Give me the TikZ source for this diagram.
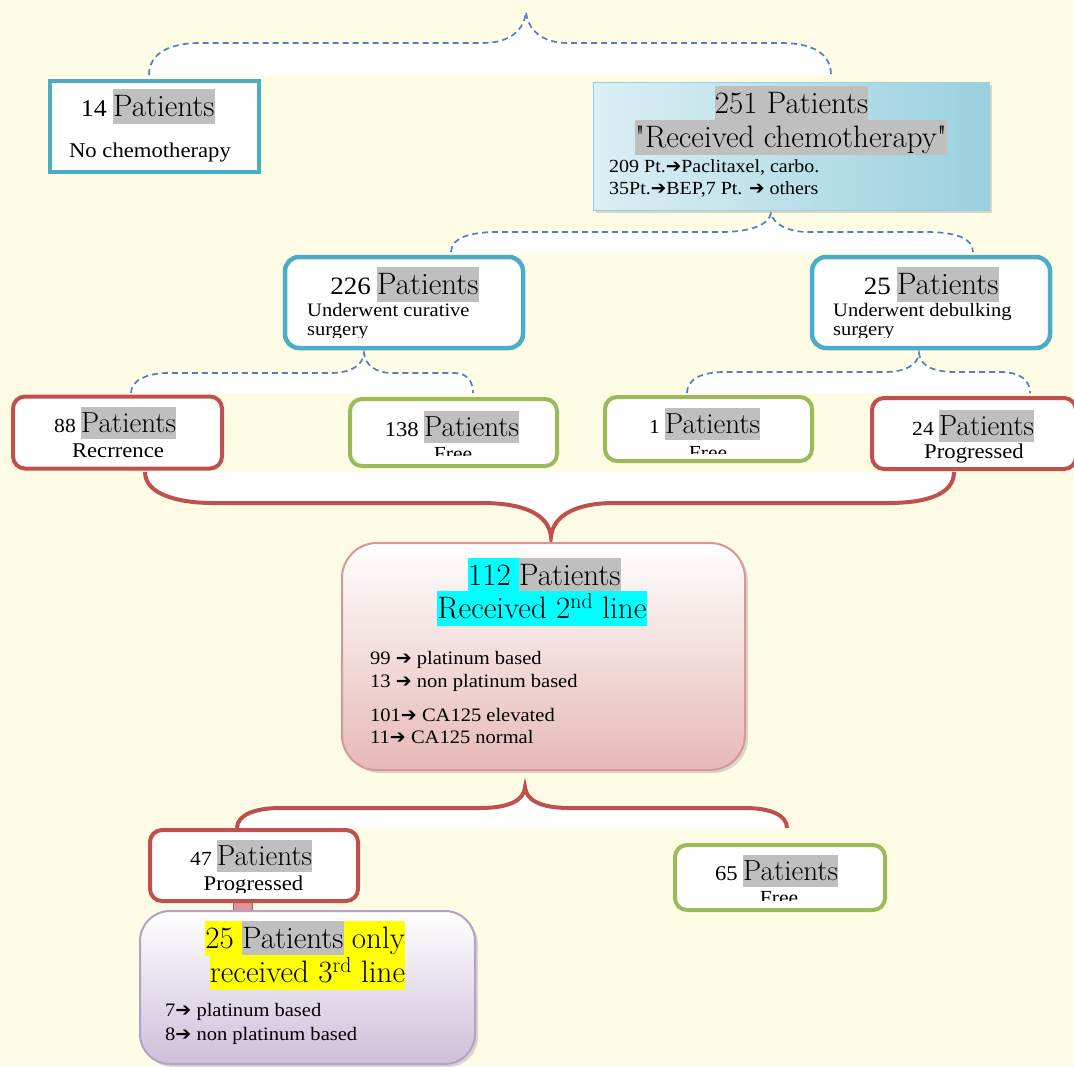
\documentclass[tikz,border=0pt]{standalone}
\usepackage{fontspec}
\setmainfont{Liberation Serif}[Ligatures=TeXOff, FakeStretch=1.08]
\newfontfamily\bigface{Latin Modern Roman}[Ligatures=TeXOff]
\newfontfamily\arrowfont{DejaVu Sans}
\usetikzlibrary{shadows}

\definecolor{cream}{HTML}{FFFCE6}
\definecolor{tealline}{HTML}{4BACC6}
\definecolor{redline}{HTML}{C0504D}
\definecolor{greenline}{HTML}{9BBB59}
\definecolor{braceblue}{HTML}{4F81BD}
\definecolor{hlgray}{HTML}{BFBFBF}
\definecolor{cyanhl}{HTML}{00FFFF}
\definecolor{yellowhl}{HTML}{FFFF00}
\definecolor{skylight}{HTML}{DCEFF4}
\definecolor{skydark}{HTML}{9AD1DF}
\definecolor{pinkline}{HTML}{D99694}
\definecolor{pinkbot}{HTML}{E6B9B8}
\definecolor{pinkbar}{HTML}{D99694}
\definecolor{lilacline}{HTML}{B3A2C7}
\definecolor{lilacbot}{HTML}{CCC0DA}

\pgfdeclarelayer{front}
\pgfsetlayers{main,front}

\newcommand\fsz[1]{\fontsize{#1}{#1}\selectfont}
\newcommand\rarr{{\arrowfont ➔}}
% text on the front layer, its marker colour filled behind it
\newcommand\marked[5]{%
  \begin{pgfonlayer}{front}\node[#1] (#2) at #3 {#4};\end{pgfonlayer}
  \fill[#5] (#2.north west) rectangle (#2.south east);}

\begin{document}
\begin{tikzpicture}[x=1pt,y=-1pt,
    boxbase/.style={inner sep=0pt, fill=white},
    tealbox/.style={boxbase, draw=tealline, line width=4.5pt, rounded corners=14pt},
    redbox/.style={boxbase, draw=redline, line width=4pt, rounded corners=12pt},
    greenbox/.style={boxbase, draw=greenline, line width=4pt, rounded corners=12pt},
    softshadow/.style={drop shadow={shadow xshift=3pt, shadow yshift=-3pt, fill=gray!60}},
    bluebrace/.style={draw=braceblue, line width=1.7pt, dash pattern=on 6pt off 4pt, fill=white},
    redbrace/.style={draw=redline, line width=4pt, fill=white},
    linkbar/.style={draw=redline, line width=1pt, double=pinkbar, double distance=18pt},
    txt/.style={inner sep=0pt, anchor=base},
    txtl/.style={inner sep=0pt, anchor=base west},
    num/.style={inner sep=0pt, anchor=base east},
    hlbig/.style={inner sep=0pt, anchor=base west, font=\bigface\fsz{31}, text height=26.5pt, text depth=7.5pt},
    hlmid/.style={inner sep=0pt, anchor=base west, font=\bigface\fsz{29}, text height=25pt, text depth=7pt},
    hlbigc/.style={hlbig, anchor=base},
    hlbige/.style={hlbig, anchor=base east}]
        \useasboundingbox (0,0) rectangle (1074,1066);
        \fill[cream] (0,0) rectangle (1074,1066);
        % ends and tips of the braces
        \coordinate (b1t) at (526,12);
        \coordinate (b1l) at (149,75);
        \coordinate (b1r) at (831,75);
        \coordinate (b2t) at (771,213);
        \coordinate (b2l) at (451,252);
        \coordinate (b2r) at (973,252);
        \coordinate (b3t) at (364,353);
        \coordinate (b3l) at (131,393);
        \coordinate (b3r) at (473,393);
        \coordinate (b4t) at (919,353);
        \coordinate (b4l) at (687,393);
        \coordinate (b4r) at (1030,393);
        \coordinate (b5t) at (551,537);
        \coordinate (b5l) at (145,472);
        \coordinate (b5r) at (954,472);
        \coordinate (b6t) at (525,787);
        \coordinate (b6l) at (237,828);
        \coordinate (b6r) at (787,828);
        % drawing the braces
        \path[bluebrace] (b1l) .. controls (149,52) and (172,43) .. (200,43) -- (483,43)
            .. controls (510,43) and (524,30) .. (b1t) .. controls (528,30) and (542,43) .. (568,43)
            -- (781,43) .. controls (810,43) and (831,52) .. (b1r);
        \path[bluebrace] (b2l) .. controls (451,238) and (470,232) .. (497,232) -- (721,232)
            .. controls (750,232) and (769,225) .. (b2t) .. controls (773,225) and (790,232) .. (808,232)
            -- (926,232) .. controls (955,232) and (973,238) .. (b2r);
        \path[bluebrace] (b3l) .. controls (131,380) and (148,373) .. (168,373) -- (330,373)
            .. controls (352,373) and (363,365) .. (b3t) .. controls (365,365) and (376,373) .. (392,373)
            -- (454,373) .. controls (466,373) and (473,380) .. (b3r);
        \path[bluebrace] (b4l) .. controls (687,380) and (700,372) .. (725,372) -- (885,372)
            .. controls (905,372) and (918,365) .. (b4t) .. controls (920,365) and (932,372) .. (955,372)
            -- (1000,372) .. controls (1020,372) and (1030,380) .. (b4r);
        \path[redbrace] (b5l) .. controls (145,495) and (180,503) .. (213,503) -- (482,503)
            .. controls (525,503) and (549,515) .. (b5t) .. controls (553,515) and (577,503) .. (614,503)
            -- (888,503) .. controls (925,503) and (954,495) .. (b5r);
        \path[redbrace] (b6l) .. controls (237,815) and (255,808) .. (280,808) -- (480,808)
            .. controls (510,808) and (524,800) .. (b6t) .. controls (526,800) and (540,808) .. (570,808)
            -- (745,808) .. controls (770,808) and (787,815) .. (b6r);
        % first level
        \node[boxbase, draw=tealline, line width=4.5pt, minimum width=209, minimum height=91] (p14) at (154.5,126.5) {};
        \marked{hlbig}{p14p}{(113,116)}{Patients}{hlgray}
        \node[num, font=\fsz{24}] (p14n) at ([xshift=-6pt]p14p.base west) {14};
        \node[txt] (p14b) at (150,157) {\fsz{21}No chemotherapy};
        \node[inner sep=0pt, draw=skydark, line width=1pt, left color=skylight, right color=skydark,
            softshadow, minimum width=396, minimum height=128] (p251) at (791,146) {};
        \marked{hlbigc}{p251a}{(791.5,113)}{251 Patients}{hlgray}
        \marked{hlbigc}{p251b}{(791,147)}{"Received chemotherapy"}{hlgray}
        \node[txtl] (p251c) at (609,172) {\fsz{18.5}209 Pt.\rarr Paclitaxel, carbo.};
        \node[txtl] (p251d) at (609,194) {\fsz{18.5}35Pt.\rarr BEP,7 Pt. \rarr{} others};
        % second level
        \node[tealbox, minimum width=238, minimum height=91] (p226) at (404,302.5) {};
        \marked{hlbig}{p226p}{(377,294)}{Patients}{hlgray}
        \node[num, font=\fsz{25}] (p226n) at ([xshift=-6pt]p226p.base west) {226};
        \node[txtl] (p226b) at (307,316) {\fsz{19}Underwent curative};
        \begin{scope}
            \clip (300,320) rectangle (510,337);
            \node[txtl] (p226c) at (307,335) {\fsz{19}surgery};
        \end{scope}
        \node[tealbox, minimum width=238, minimum height=91] (p25d) at (931,302.5) {};
        \marked{hlbig}{p25dp}{(897,294)}{Patients}{hlgray}
        \node[num, font=\fsz{25}] (p25dn) at ([xshift=-6pt]p25dp.base west) {25};
        \node[txtl] (p25db) at (833,316) {\fsz{19}Underwent debulking};
        \begin{scope}
            \clip (825,320) rectangle (1040,337);
            \node[txtl] (p25dc) at (833,335) {\fsz{19}surgery};
        \end{scope}
        % third level
        \node[redbox, minimum width=209, minimum height=72] (p88) at (117.5,432.5) {};
        \marked{hlmid}{p88p}{(81,432)}{Patients}{hlgray}
        \node[num, font=\fsz{20}] (p88n) at ([xshift=-5pt]p88p.base west) {88};
        \node[txt] (p88b) at (118,457) {\fsz{21}Recrrence};
        \node[greenbox, minimum width=207, minimum height=67] (p138) at (453.5,432.5) {};
        \marked{hlmid}{p138p}{(424,436)}{Patients}{hlgray}
        \node[num, font=\fsz{21}] (p138n) at ([xshift=-5pt]p138p.base west) {138};
        \begin{scope}
            \clip (352,440) rectangle (555,455);
            \node[txt] (p138b) at (453,460) {\fsz{20}Free};
        \end{scope}
        \node[greenbox, minimum width=207, minimum height=64] (p1) at (708.5,429) {};
        \marked{hlmid}{p1p}{(665,433)}{Patients}{hlgray}
        \node[num, font=\fsz{20}] (p1n) at ([xshift=-5pt]p1p.base west) {1};
        \begin{scope}
            \clip (606,440) rectangle (810,453);
            \node[txt] (p1b) at (708,459) {\fsz{20}Free};
        \end{scope}
        \node[redbox, minimum width=204, minimum height=71] (p24) at (974,433.5) {};
        \marked{hlmid}{p24p}{(939,435)}{Patients}{hlgray}
        \node[num, font=\fsz{20}] (p24n) at ([xshift=-5pt]p24p.base west) {24};
        \node[txt] (p24b) at (974,458) {\fsz{21}Progressed};
        % second line
        \node[inner sep=0pt, draw=pinkline, line width=2pt, rounded corners=35pt, top color=white,
            bottom color=pinkbot, softshadow, minimum width=403, minimum height=227] (p112) at (543.5,656.5) {};
        \marked{hlbig}{p112p}{(519,585)}{Patients}{hlgray}
        \marked{hlbige}{p112n}{(p112p.base west)}{112\kern8pt}{cyanhl}
        \marked{hlbigc}{p112b}{(542,618)}{Received 2\textsuperscript{nd} line}{cyanhl}
        \node[txtl] (p112c) at (370,664) {\fsz{19}99 \rarr{} platinum based};
        \node[txtl] (p112d) at (370,687) {\fsz{19}13 \rarr{} non platinum based};
        \node[txtl] (p112e) at (370,721) {\fsz{19}101\rarr{} CA125 elevated};
        \node[txtl] (p112f) at (370,743) {\fsz{19}11\rarr{} CA125 normal};
        % after second line
        \draw[linkbar] (243,903) -- (243,912);
        \node[redbox, minimum width=208, minimum height=71] (p47) at (254,865.5) {};
        \marked{hlmid}{p47p}{(217,865)}{Patients}{hlgray}
        \node[num, font=\fsz{20}] (p47n) at ([xshift=-5pt]p47p.base west) {47};
        \begin{scope}
            \clip (153,870) rectangle (355,892);
            \node[txt] (p47b) at (253.5,890) {\fsz{21}Progressed};
        \end{scope}
        \node[greenbox, minimum width=210, minimum height=65] (p65) at (780,877.5) {};
        \marked{hlmid}{p65p}{(743,880)}{Patients}{hlgray}
        \node[num, font=\fsz{21}] (p65n) at ([xshift=-5pt]p65p.base west) {65};
        \begin{scope}
            \clip (678,885) rectangle (882,900);
            \node[txt] (p65b) at (779,904) {\fsz{20}Free};
        \end{scope}
        % third line
        \node[inner sep=0pt, draw=lilacline, line width=2pt, rounded corners=30pt, top color=white,
            bottom color=lilacbot, softshadow, minimum width=335, minimum height=153] (p25t) at (307.5,987.5) {};
        \marked{hlbig}{p25tp}{(242,948)}{Patients}{hlgray}
        \marked{hlbige}{p25tn}{(p25tp.base west)}{25\kern8pt}{yellowhl}
        \marked{hlbig}{p25to}{(p25tp.base east)}{\kern8pt only}{yellowhl}
        \marked{hlbigc}{p25tb}{(307.5,982)}{received 3\textsuperscript{rd} line}{yellowhl}
        \node[txtl] (p25tc) at (165,1016) {\fsz{19}7\rarr{} platinum based};
        \node[txtl] (p25td) at (165,1040) {\fsz{19}8\rarr{} non platinum based};
\end{tikzpicture}
\end{document}
